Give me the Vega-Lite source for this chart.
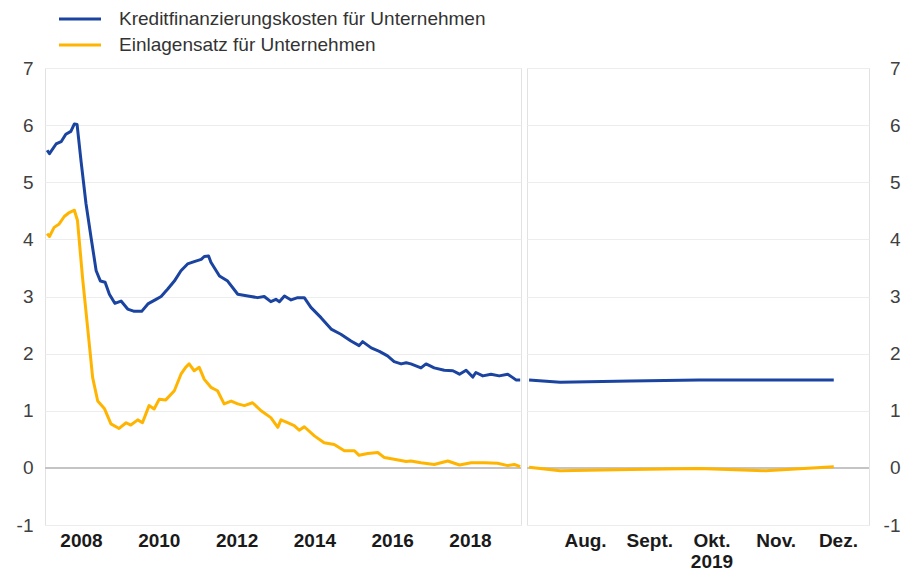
{
  "$schema": "https://vega.github.io/schema/vega-lite/v6.json",
  "padding": {"left": 15, "top": 6, "right": 1, "bottom": 0},
  "spacing": 2,
  "config": {
    "view": {"stroke": "#e2e2e2", "strokeWidth": 1},
    "font": "Liberation Sans",
    "axis": {"title": null, "ticks": false, "tickSize": 0, "domain": false, "labelFont": "Liberation Sans", "labelFontSize": 19, "gridColor": "#ededed", "gridWidth": 1}
  },
  "datasets": {
    "left": [
      {"s":"K","t":2007.13,"v":5.56},{"s":"K","t":2007.19,"v":5.50},{"s":"K","t":2007.36,"v":5.67},{"s":"K","t":2007.49,"v":5.71},
      {"s":"K","t":2007.61,"v":5.84},{"s":"K","t":2007.74,"v":5.89},{"s":"K","t":2007.83,"v":6.02},{"s":"K","t":2007.90,"v":6.01},
      {"s":"K","t":2008.00,"v":5.38},{"s":"K","t":2008.13,"v":4.62},{"s":"K","t":2008.26,"v":4.03},{"s":"K","t":2008.39,"v":3.45},
      {"s":"K","t":2008.50,"v":3.27},{"s":"K","t":2008.62,"v":3.25},{"s":"K","t":2008.73,"v":3.04},{"s":"K","t":2008.87,"v":2.88},
      {"s":"K","t":2009.03,"v":2.92},{"s":"K","t":2009.20,"v":2.78},{"s":"K","t":2009.37,"v":2.74},{"s":"K","t":2009.56,"v":2.74},
      {"s":"K","t":2009.72,"v":2.87},{"s":"K","t":2009.93,"v":2.95},{"s":"K","t":2010.06,"v":3.00},{"s":"K","t":2010.19,"v":3.10},
      {"s":"K","t":2010.23,"v":3.13},{"s":"K","t":2010.40,"v":3.27},{"s":"K","t":2010.57,"v":3.45},{"s":"K","t":2010.74,"v":3.57},
      {"s":"K","t":2010.91,"v":3.61},{"s":"K","t":2011.09,"v":3.65},{"s":"K","t":2011.17,"v":3.70},{"s":"K","t":2011.28,"v":3.71},
      {"s":"K","t":2011.34,"v":3.60},{"s":"K","t":2011.56,"v":3.36},{"s":"K","t":2011.77,"v":3.27},{"s":"K","t":2012.03,"v":3.04},
      {"s":"K","t":2012.29,"v":3.01},{"s":"K","t":2012.54,"v":2.98},{"s":"K","t":2012.71,"v":3.00},{"s":"K","t":2012.88,"v":2.91},
      {"s":"K","t":2013.01,"v":2.95},{"s":"K","t":2013.10,"v":2.91},{"s":"K","t":2013.23,"v":3.01},{"s":"K","t":2013.40,"v":2.94},
      {"s":"K","t":2013.57,"v":2.98},{"s":"K","t":2013.74,"v":2.98},{"s":"K","t":2013.91,"v":2.81},{"s":"K","t":2014.17,"v":2.63},
      {"s":"K","t":2014.43,"v":2.43},{"s":"K","t":2014.68,"v":2.34},{"s":"K","t":2014.94,"v":2.22},{"s":"K","t":2015.15,"v":2.14},
      {"s":"K","t":2015.24,"v":2.21},{"s":"K","t":2015.46,"v":2.10},{"s":"K","t":2015.67,"v":2.04},{"s":"K","t":2015.88,"v":1.96},
      {"s":"K","t":2016.05,"v":1.86},{"s":"K","t":2016.23,"v":1.82},{"s":"K","t":2016.36,"v":1.84},{"s":"K","t":2016.48,"v":1.82},
      {"s":"K","t":2016.74,"v":1.75},{"s":"K","t":2016.87,"v":1.82},{"s":"K","t":2017.08,"v":1.75},{"s":"K","t":2017.34,"v":1.71},
      {"s":"K","t":2017.56,"v":1.70},{"s":"K","t":2017.73,"v":1.64},{"s":"K","t":2017.90,"v":1.71},{"s":"K","t":2018.07,"v":1.59},
      {"s":"K","t":2018.15,"v":1.67},{"s":"K","t":2018.33,"v":1.61},{"s":"K","t":2018.54,"v":1.64},{"s":"K","t":2018.75,"v":1.61},
      {"s":"K","t":2018.97,"v":1.64},{"s":"K","t":2019.10,"v":1.58},{"s":"K","t":2019.18,"v":1.54},{"s":"K","t":2019.29,"v":1.54},
      {"s":"E","t":2007.13,"v":4.10},{"s":"E","t":2007.19,"v":4.05},{"s":"E","t":2007.31,"v":4.21},{"s":"E","t":2007.44,"v":4.27},
      {"s":"E","t":2007.57,"v":4.40},{"s":"E","t":2007.70,"v":4.47},{"s":"E","t":2007.83,"v":4.51},{"s":"E","t":2007.91,"v":4.33},
      {"s":"E","t":2008.04,"v":3.33},{"s":"E","t":2008.17,"v":2.46},{"s":"E","t":2008.30,"v":1.58},{"s":"E","t":2008.43,"v":1.17},
      {"s":"E","t":2008.60,"v":1.04},{"s":"E","t":2008.77,"v":0.77},{"s":"E","t":2008.98,"v":0.69},{"s":"E","t":2009.16,"v":0.79},
      {"s":"E","t":2009.28,"v":0.75},{"s":"E","t":2009.46,"v":0.84},{"s":"E","t":2009.58,"v":0.79},{"s":"E","t":2009.75,"v":1.09},
      {"s":"E","t":2009.88,"v":1.03},{"s":"E","t":2010.01,"v":1.20},{"s":"E","t":2010.18,"v":1.19},{"s":"E","t":2010.40,"v":1.35},
      {"s":"E","t":2010.57,"v":1.64},{"s":"E","t":2010.69,"v":1.76},{"s":"E","t":2010.78,"v":1.82},{"s":"E","t":2010.91,"v":1.70},
      {"s":"E","t":2011.04,"v":1.76},{"s":"E","t":2011.17,"v":1.55},{"s":"E","t":2011.34,"v":1.41},{"s":"E","t":2011.51,"v":1.35},
      {"s":"E","t":2011.68,"v":1.12},{"s":"E","t":2011.86,"v":1.17},{"s":"E","t":2012.03,"v":1.12},{"s":"E","t":2012.20,"v":1.09},
      {"s":"E","t":2012.41,"v":1.14},{"s":"E","t":2012.63,"v":1.00},{"s":"E","t":2012.88,"v":0.88},{"s":"E","t":2013.06,"v":0.71},
      {"s":"E","t":2013.14,"v":0.84},{"s":"E","t":2013.31,"v":0.79},{"s":"E","t":2013.48,"v":0.74},{"s":"E","t":2013.61,"v":0.66},
      {"s":"E","t":2013.74,"v":0.72},{"s":"E","t":2014.00,"v":0.56},{"s":"E","t":2014.25,"v":0.44},{"s":"E","t":2014.51,"v":0.41},
      {"s":"E","t":2014.77,"v":0.30},{"s":"E","t":2015.03,"v":0.30},{"s":"E","t":2015.15,"v":0.22},{"s":"E","t":2015.37,"v":0.25},
      {"s":"E","t":2015.63,"v":0.27},{"s":"E","t":2015.80,"v":0.18},{"s":"E","t":2016.05,"v":0.15},{"s":"E","t":2016.36,"v":0.11},
      {"s":"E","t":2016.48,"v":0.12},{"s":"E","t":2016.74,"v":0.09},{"s":"E","t":2017.08,"v":0.06},{"s":"E","t":2017.43,"v":0.12},
      {"s":"E","t":2017.73,"v":0.05},{"s":"E","t":2018.03,"v":0.09},{"s":"E","t":2018.37,"v":0.09},{"s":"E","t":2018.71,"v":0.08},
      {"s":"E","t":2018.97,"v":0.04},{"s":"E","t":2019.14,"v":0.06},{"s":"E","t":2019.29,"v":0.02}
    ],
    "right": [
      {"s":"K","d":"2019-07-05","v":1.54},{"s":"K","d":"2019-07-20","v":1.50},{"s":"K","d":"2019-08-23","v":1.52},
      {"s":"K","d":"2019-09-25","v":1.54},{"s":"K","d":"2019-10-27","v":1.54},{"s":"K","d":"2019-11-29","v":1.54},
      {"s":"E","d":"2019-07-05","v":0.01},{"s":"E","d":"2019-07-20","v":-0.05},{"s":"E","d":"2019-08-23","v":-0.03},
      {"s":"E","d":"2019-09-25","v":-0.01},{"s":"E","d":"2019-10-27","v":-0.05},{"s":"E","d":"2019-11-29","v":0.02}
    ]
  },
  "resolve": {"scale": {"color": "independent", "y": "independent", "x": "independent"}},
  "hconcat": [
    {
      "width": 476,
      "height": 457,
      "layer": [
        {
          "data": {"values": [{}]},
          "mark": {"type": "rule", "color": "#c4c4c4", "strokeWidth": 2},
          "encoding": {"y": {"datum": 0, "type": "quantitative"}}
        },
        {
          "data": {"name": "left"},
          "mark": {"type": "line", "strokeWidth": 3, "strokeJoin": "round"},
          "encoding": {
            "x": {"field": "t", "type": "quantitative",
              "scale": {"domain": [2007.075, 2019.311], "nice": false, "zero": false},
              "axis": {"values": [2008, 2010, 2012, 2014, 2016, 2018], "format": "d", "labelFontWeight": "bold", "labelColor": "#1a1a1a", "labelPadding": 6, "grid": false}},
            "y": {"field": "v", "type": "quantitative",
              "scale": {"domain": [-1, 7], "nice": false, "zero": false},
              "axis": {"values": [-1, 0, 1, 2, 3, 4, 5, 6, 7], "labelExpr": "'' + datum.value", "labelColor": "#404040", "labelPadding": 12, "grid": true}},
            "color": {"field": "s", "type": "nominal",
              "scale": {"domain": ["K", "E"], "range": ["#1b44a0", "#ffb400"]},
              "legend": {"orient": "none", "legendX": 23, "legendY": -61, "title": null, "padding": 0,
                "symbolType": "M-2,0L2,0", "symbolSize": 441, "symbolStrokeWidth": 3,
                "labelFont": "Liberation Sans", "labelFontSize": 19, "labelColor": "#333333", "labelOffset": 27, "labelLimit": 600, "rowPadding": 4,
                "labelExpr": "datum.label == 'K' ? 'Kreditfinanzierungskosten für Unternehmen' : 'Einlagensatz für Unternehmen'"}}
          }
        }
      ]
    },
    {
      "width": 342,
      "height": 457,
      "layer": [
        {
          "data": {"values": [{}]},
          "mark": {"type": "rule", "color": "#c4c4c4", "strokeWidth": 2},
          "encoding": {"y": {"datum": 0, "type": "quantitative"}}
        },
        {
          "data": {"name": "right"},
          "mark": {"type": "line", "strokeWidth": 3, "strokeJoin": "round"},
          "encoding": {
            "x": {"field": "d", "type": "temporal",
              "scale": {"domain": [{"year": 2019, "month": 7, "date": 4}, {"year": 2019, "month": 12, "date": 16}], "nice": false},
              "axis": {"values": [{"year": 2019, "month": 8, "date": 1}, {"year": 2019, "month": 9, "date": 1}, {"year": 2019, "month": 10, "date": 1}, {"year": 2019, "month": 11, "date": 1}, {"year": 2019, "month": 12, "date": 1}],
                "labelExpr": "month(datum.value) == 9 ? ['Okt.', '2019'] : month(datum.value) == 7 ? 'Aug.' : month(datum.value) == 8 ? 'Sept.' : month(datum.value) == 10 ? 'Nov.' : 'Dez.'",
                "labelFontWeight": "bold", "labelColor": "#1a1a1a", "labelPadding": 6, "labelLineHeight": 21, "grid": false}},
            "y": {"field": "v", "type": "quantitative",
              "scale": {"domain": [-1, 7], "nice": false, "zero": false},
              "axis": {"orient": "right", "values": [-1, 0, 1, 2, 3, 4, 5, 6, 7], "labelExpr": "'' + datum.value", "labelAlign": "right", "labelColor": "#404040", "labelPadding": 31, "grid": true}},
            "color": {"field": "s", "type": "nominal",
              "scale": {"domain": ["K", "E"], "range": ["#1b44a0", "#ffb400"]},
              "legend": null}
          }
        }
      ]
    }
  ]
}
